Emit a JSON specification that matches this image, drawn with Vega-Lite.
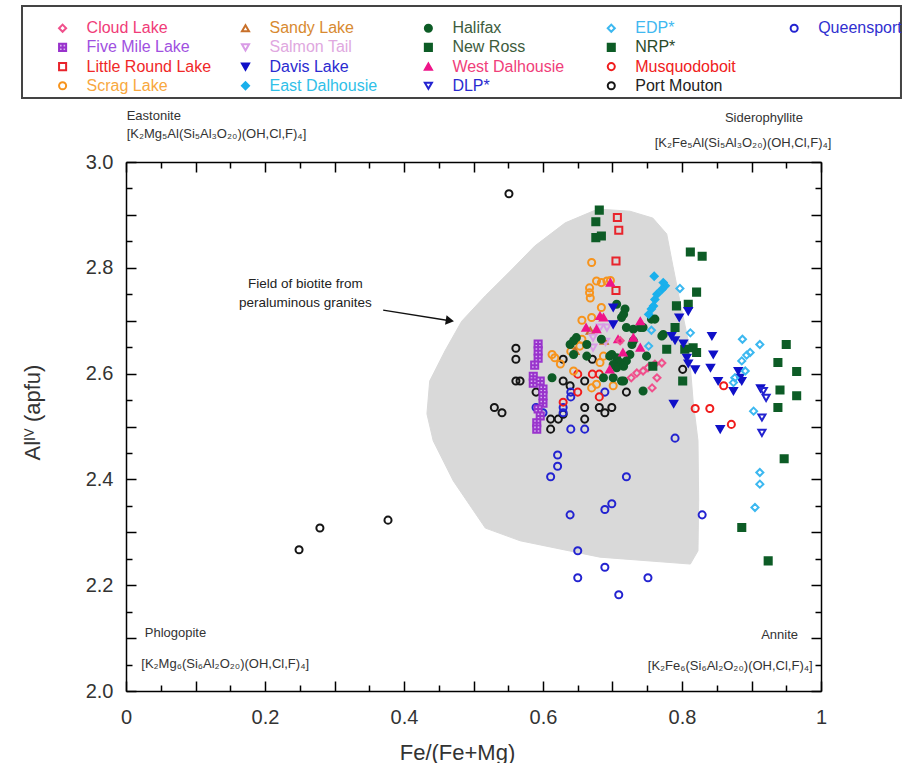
{
  "$schema": "https://vega.github.io/schema/vega-lite/v6.json",
  "padding": {"left": 21, "top": 4, "right": 0, "bottom": 0},
  "background": "white",
  "config": {"font": "Liberation Sans", "view": {"stroke": null}},
  "width": 695,
  "height": 529,
  "datasets": {
    "legend": [
      {"s": "Cloud Lake", "col": 1, "row": 1},
      {"s": "Five Mile Lake", "col": 1, "row": 2},
      {"s": "Little Round Lake", "col": 1, "row": 3},
      {"s": "Scrag Lake", "col": 1, "row": 4},
      {"s": "Sandy Lake", "col": 2, "row": 1},
      {"s": "Salmon Tail", "col": 2, "row": 2},
      {"s": "Davis Lake", "col": 2, "row": 3},
      {"s": "East Dalhousie", "col": 2, "row": 4},
      {"s": "Halifax", "col": 3, "row": 1},
      {"s": "New Ross", "col": 3, "row": 2},
      {"s": "West Dalhousie", "col": 3, "row": 3},
      {"s": "DLP*", "col": 3, "row": 4},
      {"s": "EDP*", "col": 4, "row": 1},
      {"s": "NRP*", "col": 4, "row": 2},
      {"s": "Musquodoboit", "col": 4, "row": 3},
      {"s": "Port Mouton", "col": 4, "row": 4},
      {"s": "Queensport", "col": 5, "row": 1}
    ],
    "field": [
      {"i": 1, "x": 0.679, "y": 2.911}, {"i": 2, "x": 0.725, "y": 2.907}, {"i": 3, "x": 0.758, "y": 2.894},
      {"i": 4, "x": 0.778, "y": 2.864}, {"i": 5, "x": 0.787, "y": 2.803}, {"i": 6, "x": 0.797, "y": 2.737},
      {"i": 7, "x": 0.809, "y": 2.662}, {"i": 8, "x": 0.816, "y": 2.548}, {"i": 9, "x": 0.823, "y": 2.473},
      {"i": 10, "x": 0.824, "y": 2.359}, {"i": 11, "x": 0.823, "y": 2.265}, {"i": 12, "x": 0.812, "y": 2.24},
      {"i": 13, "x": 0.682, "y": 2.253}, {"i": 14, "x": 0.567, "y": 2.284}, {"i": 15, "x": 0.517, "y": 2.308},
      {"i": 16, "x": 0.471, "y": 2.397}, {"i": 17, "x": 0.442, "y": 2.473}, {"i": 18, "x": 0.433, "y": 2.524},
      {"i": 19, "x": 0.437, "y": 2.586}, {"i": 20, "x": 0.459, "y": 2.643}, {"i": 21, "x": 0.483, "y": 2.699},
      {"i": 22, "x": 0.517, "y": 2.747}, {"i": 23, "x": 0.553, "y": 2.794}, {"i": 24, "x": 0.588, "y": 2.841},
      {"i": 25, "x": 0.632, "y": 2.885}
    ],
    "notesL": [
      {"t": "Eastonite", "x": 0.001, "y": 3.087},
      {"t": "[K₂Mg₅Al(Si₅Al₃O₂₀)(OH,Cl,F)₄]", "x": 0.001, "y": 3.053},
      {"t": "Phlogopite", "x": 0.027, "y": 2.11},
      {"t": "[K₂Mg₆(Si₆Al₂O₂₀)(OH,Cl,F)₄]", "x": 0.022, "y": 2.051}
    ],
    "notesR": [
      {"t": "Siderophyllite", "x": 0.974, "y": 3.083},
      {"t": "[K₂Fe₅Al(Si₅Al₃O₂₀)(OH,Cl,F)₄]", "x": 1.015, "y": 3.036},
      {"t": "Annite", "x": 0.967, "y": 2.106},
      {"t": "[K₂Fe₆(Si₆Al₂O₂₀)(OH,Cl,F)₄]", "x": 0.988, "y": 2.047}
    ],
    "notesC": [
      {"t": "Field of biotite from", "x": 0.258, "y": 2.769},
      {"t": "peraluminous granites", "x": 0.258, "y": 2.733}
    ],
    "arrow": [{"x": 0.37, "y": 2.72, "x2": 0.466, "y2": 2.7}],
    "pts": [
      {"s": "Port Mouton", "x": 0.551, "y": 2.94}, {"s": "Port Mouton", "x": 0.249, "y": 2.267},
      {"s": "Port Mouton", "x": 0.279, "y": 2.308}, {"s": "Port Mouton", "x": 0.377, "y": 2.323},
      {"s": "Port Mouton", "x": 0.561, "y": 2.648}, {"s": "Port Mouton", "x": 0.561, "y": 2.627},
      {"s": "Port Mouton", "x": 0.561, "y": 2.586}, {"s": "Port Mouton", "x": 0.567, "y": 2.586},
      {"s": "Port Mouton", "x": 0.59, "y": 2.565}, {"s": "Port Mouton", "x": 0.53, "y": 2.536},
      {"s": "Port Mouton", "x": 0.541, "y": 2.526}, {"s": "Port Mouton", "x": 0.629, "y": 2.627},
      {"s": "Port Mouton", "x": 0.671, "y": 2.627}, {"s": "Port Mouton", "x": 0.629, "y": 2.586},
      {"s": "Port Mouton", "x": 0.639, "y": 2.577}, {"s": "Port Mouton", "x": 0.66, "y": 2.586},
      {"s": "Port Mouton", "x": 0.611, "y": 2.514}, {"s": "Port Mouton", "x": 0.622, "y": 2.514},
      {"s": "Port Mouton", "x": 0.629, "y": 2.523}, {"s": "Port Mouton", "x": 0.611, "y": 2.495},
      {"s": "Port Mouton", "x": 0.66, "y": 2.536}, {"s": "Port Mouton", "x": 0.66, "y": 2.514},
      {"s": "Port Mouton", "x": 0.681, "y": 2.536}, {"s": "Port Mouton", "x": 0.689, "y": 2.526},
      {"s": "Port Mouton", "x": 0.699, "y": 2.536}, {"s": "Port Mouton", "x": 0.72, "y": 2.565},
      {"s": "Port Mouton", "x": 0.801, "y": 2.608},
      {"s": "Queensport", "x": 0.621, "y": 2.446}, {"s": "Queensport", "x": 0.621, "y": 2.425},
      {"s": "Queensport", "x": 0.611, "y": 2.405}, {"s": "Queensport", "x": 0.72, "y": 2.405},
      {"s": "Queensport", "x": 0.699, "y": 2.354}, {"s": "Queensport", "x": 0.689, "y": 2.343},
      {"s": "Queensport", "x": 0.639, "y": 2.333}, {"s": "Queensport", "x": 0.829, "y": 2.333},
      {"s": "Queensport", "x": 0.65, "y": 2.265}, {"s": "Queensport", "x": 0.689, "y": 2.234},
      {"s": "Queensport", "x": 0.65, "y": 2.214}, {"s": "Queensport", "x": 0.751, "y": 2.214},
      {"s": "Queensport", "x": 0.709, "y": 2.182}, {"s": "Queensport", "x": 0.79, "y": 2.478},
      {"s": "Queensport", "x": 0.64, "y": 2.565}, {"s": "Queensport", "x": 0.64, "y": 2.556},
      {"s": "Queensport", "x": 0.689, "y": 2.565}, {"s": "Queensport", "x": 0.59, "y": 2.536},
      {"s": "Queensport", "x": 0.6, "y": 2.526}, {"s": "Queensport", "x": 0.629, "y": 2.536},
      {"s": "Queensport", "x": 0.629, "y": 2.526}, {"s": "Queensport", "x": 0.64, "y": 2.495},
      {"s": "Queensport", "x": 0.66, "y": 2.495},
      {"s": "Five Mile Lake", "x": 0.593, "y": 2.656}, {"s": "Five Mile Lake", "x": 0.593, "y": 2.643},
      {"s": "Five Mile Lake", "x": 0.593, "y": 2.629}, {"s": "Five Mile Lake", "x": 0.588, "y": 2.616},
      {"s": "Five Mile Lake", "x": 0.586, "y": 2.595}, {"s": "Five Mile Lake", "x": 0.586, "y": 2.582},
      {"s": "Five Mile Lake", "x": 0.596, "y": 2.586}, {"s": "Five Mile Lake", "x": 0.6, "y": 2.571},
      {"s": "Five Mile Lake", "x": 0.6, "y": 2.558}, {"s": "Five Mile Lake", "x": 0.6, "y": 2.544},
      {"s": "Five Mile Lake", "x": 0.593, "y": 2.533}, {"s": "Five Mile Lake", "x": 0.596, "y": 2.52},
      {"s": "Five Mile Lake", "x": 0.591, "y": 2.507}, {"s": "Five Mile Lake", "x": 0.591, "y": 2.495},
      {"s": "Little Round Lake", "x": 0.707, "y": 2.895}, {"s": "Little Round Lake", "x": 0.709, "y": 2.871},
      {"s": "Little Round Lake", "x": 0.705, "y": 2.813}, {"s": "Little Round Lake", "x": 0.705, "y": 2.757},
      {"s": "Musquodoboit", "x": 0.65, "y": 2.599}, {"s": "Musquodoboit", "x": 0.671, "y": 2.599},
      {"s": "Musquodoboit", "x": 0.681, "y": 2.599}, {"s": "Musquodoboit", "x": 0.65, "y": 2.565},
      {"s": "Musquodoboit", "x": 0.629, "y": 2.546}, {"s": "Musquodoboit", "x": 0.681, "y": 2.556},
      {"s": "Musquodoboit", "x": 0.86, "y": 2.577}, {"s": "Musquodoboit", "x": 0.819, "y": 2.534},
      {"s": "Musquodoboit", "x": 0.84, "y": 2.534}, {"s": "Musquodoboit", "x": 0.871, "y": 2.504},
      {"s": "Scrag Lake", "x": 0.67, "y": 2.81}, {"s": "Scrag Lake", "x": 0.677, "y": 2.775},
      {"s": "Scrag Lake", "x": 0.684, "y": 2.772}, {"s": "Scrag Lake", "x": 0.692, "y": 2.775},
      {"s": "Scrag Lake", "x": 0.697, "y": 2.776}, {"s": "Scrag Lake", "x": 0.667, "y": 2.762},
      {"s": "Scrag Lake", "x": 0.667, "y": 2.753}, {"s": "Scrag Lake", "x": 0.668, "y": 2.743},
      {"s": "Scrag Lake", "x": 0.684, "y": 2.725}, {"s": "Scrag Lake", "x": 0.656, "y": 2.701},
      {"s": "Scrag Lake", "x": 0.67, "y": 2.706}, {"s": "Scrag Lake", "x": 0.613, "y": 2.636},
      {"s": "Scrag Lake", "x": 0.617, "y": 2.63}, {"s": "Scrag Lake", "x": 0.653, "y": 2.652},
      {"s": "Scrag Lake", "x": 0.644, "y": 2.605}, {"s": "Scrag Lake", "x": 0.677, "y": 2.58},
      {"s": "Scrag Lake", "x": 0.67, "y": 2.573}, {"s": "Scrag Lake", "x": 0.682, "y": 2.621},
      {"s": "Scrag Lake", "x": 0.687, "y": 2.633}, {"s": "Scrag Lake", "x": 0.701, "y": 2.577},
      {"s": "Scrag Lake", "x": 0.656, "y": 2.665}, {"s": "Scrag Lake", "x": 0.64, "y": 2.642},
      {"s": "Scrag Lake", "x": 0.625, "y": 2.618},
      {"s": "Sandy Lake", "x": 0.668, "y": 2.681}, {"s": "Sandy Lake", "x": 0.688, "y": 2.662},
      {"s": "Sandy Lake", "x": 0.646, "y": 2.643},
      {"s": "Salmon Tail", "x": 0.672, "y": 2.668}, {"s": "Salmon Tail", "x": 0.682, "y": 2.687},
      {"s": "Salmon Tail", "x": 0.692, "y": 2.687}, {"s": "Salmon Tail", "x": 0.701, "y": 2.693},
      {"s": "Salmon Tail", "x": 0.672, "y": 2.649}, {"s": "Salmon Tail", "x": 0.69, "y": 2.66},
      {"s": "Halifax", "x": 0.706, "y": 2.731}, {"s": "Halifax", "x": 0.718, "y": 2.722},
      {"s": "Halifax", "x": 0.713, "y": 2.706}, {"s": "Halifax", "x": 0.72, "y": 2.687},
      {"s": "Halifax", "x": 0.73, "y": 2.684}, {"s": "Halifax", "x": 0.74, "y": 2.687},
      {"s": "Halifax", "x": 0.756, "y": 2.703}, {"s": "Halifax", "x": 0.761, "y": 2.703},
      {"s": "Halifax", "x": 0.773, "y": 2.674}, {"s": "Halifax", "x": 0.648, "y": 2.668},
      {"s": "Halifax", "x": 0.639, "y": 2.655}, {"s": "Halifax", "x": 0.684, "y": 2.665},
      {"s": "Halifax", "x": 0.663, "y": 2.655}, {"s": "Halifax", "x": 0.644, "y": 2.636},
      {"s": "Halifax", "x": 0.663, "y": 2.633}, {"s": "Halifax", "x": 0.699, "y": 2.636},
      {"s": "Halifax", "x": 0.706, "y": 2.63}, {"s": "Halifax", "x": 0.711, "y": 2.621},
      {"s": "Halifax", "x": 0.701, "y": 2.617}, {"s": "Halifax", "x": 0.72, "y": 2.624},
      {"s": "Halifax", "x": 0.613, "y": 2.592}, {"s": "Halifax", "x": 0.644, "y": 2.662},
      {"s": "Halifax", "x": 0.696, "y": 2.633}, {"s": "Halifax", "x": 0.725, "y": 2.636},
      {"s": "Halifax", "x": 0.706, "y": 2.611}, {"s": "Halifax", "x": 0.713, "y": 2.586},
      {"s": "Halifax", "x": 0.701, "y": 2.592}, {"s": "Halifax", "x": 0.744, "y": 2.567},
      {"s": "Halifax", "x": 0.73, "y": 2.662}, {"s": "Halifax", "x": 0.687, "y": 2.592},
      {"s": "Halifax", "x": 0.716, "y": 2.712}, {"s": "Halifax", "x": 0.744, "y": 2.687},
      {"s": "Halifax", "x": 0.771, "y": 2.671}, {"s": "Halifax", "x": 0.728, "y": 2.655},
      {"s": "Halifax", "x": 0.749, "y": 2.633}, {"s": "Halifax", "x": 0.716, "y": 2.614},
      {"s": "Halifax", "x": 0.716, "y": 2.586},
      {"s": "West Dalhousie", "x": 0.697, "y": 2.772}, {"s": "West Dalhousie", "x": 0.682, "y": 2.709},
      {"s": "West Dalhousie", "x": 0.687, "y": 2.706}, {"s": "West Dalhousie", "x": 0.662, "y": 2.687},
      {"s": "West Dalhousie", "x": 0.677, "y": 2.684}, {"s": "West Dalhousie", "x": 0.708, "y": 2.665},
      {"s": "West Dalhousie", "x": 0.74, "y": 2.699}, {"s": "West Dalhousie", "x": 0.73, "y": 2.668},
      {"s": "West Dalhousie", "x": 0.74, "y": 2.649}, {"s": "West Dalhousie", "x": 0.715, "y": 2.64},
      {"s": "West Dalhousie", "x": 0.696, "y": 2.608},
      {"s": "Cloud Lake", "x": 0.727, "y": 2.592}, {"s": "Cloud Lake", "x": 0.735, "y": 2.601},
      {"s": "Cloud Lake", "x": 0.744, "y": 2.605}, {"s": "Cloud Lake", "x": 0.751, "y": 2.611},
      {"s": "Cloud Lake", "x": 0.761, "y": 2.618}, {"s": "Cloud Lake", "x": 0.771, "y": 2.62},
      {"s": "Cloud Lake", "x": 0.764, "y": 2.592}, {"s": "Cloud Lake", "x": 0.757, "y": 2.573},
      {"s": "Cloud Lake", "x": 0.711, "y": 2.662},
      {"s": "New Ross", "x": 0.681, "y": 2.909}, {"s": "New Ross", "x": 0.676, "y": 2.887},
      {"s": "New Ross", "x": 0.676, "y": 2.857}, {"s": "New Ross", "x": 0.684, "y": 2.86},
      {"s": "New Ross", "x": 0.812, "y": 2.83}, {"s": "New Ross", "x": 0.829, "y": 2.822},
      {"s": "New Ross", "x": 0.821, "y": 2.754}, {"s": "New Ross", "x": 0.792, "y": 2.728},
      {"s": "New Ross", "x": 0.809, "y": 2.731}, {"s": "New Ross", "x": 0.79, "y": 2.687},
      {"s": "New Ross", "x": 0.778, "y": 2.646}, {"s": "New Ross", "x": 0.804, "y": 2.646},
      {"s": "New Ross", "x": 0.816, "y": 2.649}, {"s": "New Ross", "x": 0.821, "y": 2.64},
      {"s": "New Ross", "x": 0.758, "y": 2.614}, {"s": "New Ross", "x": 0.801, "y": 2.586},
      {"s": "New Ross", "x": 0.886, "y": 2.309}, {"s": "New Ross", "x": 0.924, "y": 2.246},
      {"s": "NRP*", "x": 0.95, "y": 2.655}, {"s": "NRP*", "x": 0.938, "y": 2.621},
      {"s": "NRP*", "x": 0.965, "y": 2.604}, {"s": "NRP*", "x": 0.941, "y": 2.569},
      {"s": "NRP*", "x": 0.965, "y": 2.558}, {"s": "NRP*", "x": 0.938, "y": 2.536},
      {"s": "NRP*", "x": 0.947, "y": 2.439},
      {"s": "Davis Lake", "x": 0.796, "y": 2.706}, {"s": "Davis Lake", "x": 0.809, "y": 2.718},
      {"s": "Davis Lake", "x": 0.785, "y": 2.671}, {"s": "Davis Lake", "x": 0.79, "y": 2.663},
      {"s": "Davis Lake", "x": 0.802, "y": 2.657}, {"s": "Davis Lake", "x": 0.807, "y": 2.63},
      {"s": "Davis Lake", "x": 0.809, "y": 2.619}, {"s": "Davis Lake", "x": 0.819, "y": 2.608},
      {"s": "Davis Lake", "x": 0.843, "y": 2.671}, {"s": "Davis Lake", "x": 0.845, "y": 2.636},
      {"s": "Davis Lake", "x": 0.841, "y": 2.611}, {"s": "Davis Lake", "x": 0.788, "y": 2.543},
      {"s": "Davis Lake", "x": 0.852, "y": 2.586}, {"s": "Davis Lake", "x": 0.874, "y": 2.567},
      {"s": "Davis Lake", "x": 0.855, "y": 2.495}, {"s": "Davis Lake", "x": 0.881, "y": 2.605},
      {"s": "Davis Lake", "x": 0.883, "y": 2.592}, {"s": "Davis Lake", "x": 0.886, "y": 2.586},
      {"s": "Davis Lake", "x": 0.701, "y": 2.725}, {"s": "Davis Lake", "x": 0.701, "y": 2.693},
      {"s": "Davis Lake", "x": 0.913, "y": 2.572},
      {"s": "DLP*", "x": 0.917, "y": 2.567}, {"s": "DLP*", "x": 0.921, "y": 2.554},
      {"s": "DLP*", "x": 0.915, "y": 2.517}, {"s": "DLP*", "x": 0.915, "y": 2.488},
      {"s": "EDP*", "x": 0.797, "y": 2.761}, {"s": "EDP*", "x": 0.812, "y": 2.677},
      {"s": "EDP*", "x": 0.756, "y": 2.682}, {"s": "EDP*", "x": 0.752, "y": 2.652},
      {"s": "EDP*", "x": 0.887, "y": 2.665}, {"s": "EDP*", "x": 0.912, "y": 2.655},
      {"s": "EDP*", "x": 0.898, "y": 2.64}, {"s": "EDP*", "x": 0.893, "y": 2.635},
      {"s": "EDP*", "x": 0.886, "y": 2.624}, {"s": "EDP*", "x": 0.891, "y": 2.605},
      {"s": "EDP*", "x": 0.876, "y": 2.592}, {"s": "EDP*", "x": 0.874, "y": 2.583},
      {"s": "EDP*", "x": 0.903, "y": 2.529}, {"s": "EDP*", "x": 0.912, "y": 2.413},
      {"s": "EDP*", "x": 0.912, "y": 2.391}, {"s": "EDP*", "x": 0.905, "y": 2.347},
      {"s": "East Dalhousie", "x": 0.76, "y": 2.784}, {"s": "East Dalhousie", "x": 0.773, "y": 2.772},
      {"s": "East Dalhousie", "x": 0.776, "y": 2.766}, {"s": "East Dalhousie", "x": 0.771, "y": 2.759},
      {"s": "East Dalhousie", "x": 0.764, "y": 2.75}, {"s": "East Dalhousie", "x": 0.761, "y": 2.74},
      {"s": "East Dalhousie", "x": 0.759, "y": 2.728}, {"s": "East Dalhousie", "x": 0.756, "y": 2.722},
      {"s": "East Dalhousie", "x": 0.752, "y": 2.712}
    ]
  },
  "layer": [
    {
      "data": {"name": "field"},
      "mark": {"type": "line", "interpolate": "linear-closed", "fill": "#d9d9d9", "stroke": "#d9d9d9", "strokeWidth": 1},
      "encoding": {
        "x": {"field": "x", "type": "quantitative", "scale": {"domain": [0, 1], "nice": false, "zero": false},
          "axis": {"orient": "bottom", "values": [0,0.05,0.1,0.15,0.2,0.25,0.3,0.35,0.4,0.45,0.5,0.55,0.6,0.65,0.7,0.75,0.8,0.85,0.9,0.95,1],
            "labelExpr": "round(datum.value*100) % 20 === 0 ? format(datum.value, '~g') : ''",
            "tickSize": {"condition": {"test": "round(datum.value*100) % 10 === 0", "value": -10}, "value": -6},
            "tickColor": "black", "tickWidth": 1.5, "domainColor": "black", "domainWidth": 1.5,
            "labelFontSize": 20, "labelColor": "#333333", "labelPadding": 26, "labelFlush": false, "labelOverlap": false,
            "grid": false, "title": "Fe/(Fe+Mg)", "titleFontSize": 22, "titleFontWeight": "normal", "titleColor": "#333333",
            "titleX": 331, "titleY": 51, "titleBaseline": "top"}},
        "y": {"field": "y", "type": "quantitative", "scale": {"domain": [2, 3], "nice": false, "zero": false},
          "axis": {"orient": "left", "values": [2,2.05,2.1,2.15,2.2,2.25,2.3,2.35,2.4,2.45,2.5,2.55,2.6,2.65,2.7,2.75,2.8,2.85,2.9,2.95,3],
            "labelExpr": "round(datum.value*100) % 20 === 0 ? format(datum.value, '.1f') : ''",
            "tickSize": {"condition": {"test": "round(datum.value*100) % 10 === 0", "value": -10}, "value": -6},
            "tickColor": "black", "tickWidth": 1.5, "domainColor": "black", "domainWidth": 1.5,
            "labelFontSize": 20, "labelColor": "#333333", "labelPadding": 23, "labelOverlap": false, "labelFlush": false,
            "grid": false, "title": "Alᴵⱽ (apfu)", "titleFontSize": 22, "titleFontWeight": "normal", "titleColor": "#333333",
            "titleX": -82, "titleY": 250}},
        "order": {"field": "i", "type": "quantitative"}
      }
    },
    {
      "data": {"name": "notesL"},
      "mark": {"type": "text", "align": "left", "baseline": "middle", "fontSize": 13, "color": "#333333"},
      "encoding": {
        "x": {"field": "x", "type": "quantitative", "scale": {"domain": [0, 1], "nice": false, "zero": false}, "axis": null},
        "y": {"field": "y", "type": "quantitative", "scale": {"domain": [2, 3], "nice": false, "zero": false}, "axis": null},
        "text": {"field": "t"}
      }
    },
    {
      "data": {"name": "notesR"},
      "mark": {"type": "text", "align": "right", "baseline": "middle", "fontSize": 13, "color": "#333333"},
      "encoding": {
        "x": {"field": "x", "type": "quantitative", "scale": {"domain": [0, 1], "nice": false, "zero": false}, "axis": null},
        "y": {"field": "y", "type": "quantitative", "scale": {"domain": [2, 3], "nice": false, "zero": false}, "axis": null},
        "text": {"field": "t"}
      }
    },
    {
      "data": {"name": "notesC"},
      "mark": {"type": "text", "align": "center", "baseline": "middle", "fontSize": 13.5, "color": "#222222"},
      "encoding": {
        "x": {"field": "x", "type": "quantitative", "scale": {"domain": [0, 1], "nice": false, "zero": false}, "axis": null},
        "y": {"field": "y", "type": "quantitative", "scale": {"domain": [2, 3], "nice": false, "zero": false}, "axis": null},
        "text": {"field": "t"}
      }
    },
    {
      "data": {"name": "arrow"},
      "mark": {"type": "rule", "color": "#111111", "strokeWidth": 1.5},
      "encoding": {
        "x": {"field": "x", "type": "quantitative", "scale": {"domain": [0, 1], "nice": false, "zero": false}, "axis": null},
        "y": {"field": "y", "type": "quantitative", "scale": {"domain": [2, 3], "nice": false, "zero": false}, "axis": null},
        "x2": {"field": "x2"},
        "y2": {"field": "y2"}
      }
    },
    {
      "data": {"name": "arrow"},
      "mark": {"type": "point", "shape": "triangle-right", "angle": 9, "filled": true, "color": "#111111", "size": 90, "opacity": 1},
      "encoding": {
        "x": {"field": "x2", "type": "quantitative", "scale": {"domain": [0, 1], "nice": false, "zero": false}, "axis": null},
        "y": {"field": "y2", "type": "quantitative", "scale": {"domain": [2, 3], "nice": false, "zero": false}, "axis": null}
      }
    },
    {
      "data": {"name": "pts"},
      "mark": {"type": "point", "size": 50, "strokeWidth": 2, "opacity": 1},
      "encoding": {
        "x": {"field": "x", "type": "quantitative", "scale": {"domain": [0, 1], "nice": false, "zero": false},
          "axis": {"orient": "top", "values": [0,0.05,0.1,0.15,0.2,0.25,0.3,0.35,0.4,0.45,0.5,0.55,0.6,0.65,0.7,0.75,0.8,0.85,0.9,0.95,1],
            "labels": false, "title": null, "grid": false,
            "tickSize": {"condition": {"test": "round(datum.value*100) % 10 === 0", "value": -10}, "value": -6},
            "tickColor": "black", "tickWidth": 1.5, "domainColor": "black", "domainWidth": 1.5}},
        "y": {"field": "y", "type": "quantitative", "scale": {"domain": [2, 3], "nice": false, "zero": false},
          "axis": {"orient": "right", "values": [2,2.05,2.1,2.15,2.2,2.25,2.3,2.35,2.4,2.45,2.5,2.55,2.6,2.65,2.7,2.75,2.8,2.85,2.9,2.95,3],
            "labels": false, "title": null, "grid": false,
            "tickSize": {"condition": {"test": "round(datum.value*100) % 10 === 0", "value": -10}, "value": -6},
            "tickColor": "black", "tickWidth": 1.5, "domainColor": "black", "domainWidth": 1.5}},
        "shape": {"field": "s", "type": "nominal", "legend": null, "scale": {
          "domain": ["Cloud Lake","Five Mile Lake","Little Round Lake","Scrag Lake","Sandy Lake","Salmon Tail","Davis Lake","East Dalhousie","Halifax","New Ross","West Dalhousie","DLP*","EDP*","NRP*","Musquodoboit","Port Mouton","Queensport"],
          "range": ["diamond","M-1,-1H1V1H-1Z M0,-1V1 M-1,0H1","square","circle","triangle-up","triangle-down","triangle-down","diamond","circle","square","triangle-up","triangle-down","diamond","M-1,-1H1V1H-1Z M-0.6,-0.15V0.15H0.6V-0.15Z","circle","circle","circle"]}},
        "fill": {"field": "s", "type": "nominal", "legend": null, "scale": {
          "domain": ["Cloud Lake","Five Mile Lake","Little Round Lake","Scrag Lake","Sandy Lake","Salmon Tail","Davis Lake","East Dalhousie","Halifax","New Ross","West Dalhousie","DLP*","EDP*","NRP*","Musquodoboit","Port Mouton","Queensport"],
          "range": ["transparent","#d9b3f2","transparent","transparent","transparent","transparent","#1010c8","#1ab0ec","#0d5c26","#0d5c26","#ee1589","transparent","transparent","#0d5c26","transparent","transparent","transparent"]}},
        "stroke": {"field": "s", "type": "nominal", "legend": null, "scale": {
          "domain": ["Cloud Lake","Five Mile Lake","Little Round Lake","Scrag Lake","Sandy Lake","Salmon Tail","Davis Lake","East Dalhousie","Halifax","New Ross","West Dalhousie","DLP*","EDP*","NRP*","Musquodoboit","Port Mouton","Queensport"],
          "range": ["#f0508c","#9933cc","#e8242c","#f7941d","#c8702a","#d99be6","#1010c8","#1ab0ec","#0d5c26","#0d5c26","#ee1589","#2323d0","#3cb8f0","#0d5c26","#f01c1c","#151515","#2323d0"]}}
      }
    },
    {
      "data": {"name": "legend"},
      "layer": [
        {
          "transform": [{"filter": "datum.col === 1 && datum.row === 1"}],
          "mark": {"type": "rect", "filled": false, "color": "#444444", "strokeWidth": 2},
          "encoding": {
            "x": {"datum": 0.7781, "type": "quantitative", "scale": {"domain": [1.3467, 5.1467], "nice": false, "zero": false}, "axis": null},
            "x2": {"datum": 5.584},
            "y": {"datum": -0.156, "type": "quantitative", "scale": {"domain": [7.969, 35.521], "nice": false, "zero": false, "reverse": true}, "axis": null},
            "y2": {"datum": 4.636}
          }
        },
        {
          "mark": {"type": "point", "size": 50, "strokeWidth": 2, "opacity": 1},
          "encoding": {
            "x": {"field": "col", "type": "quantitative", "scale": {"domain": [1.3467, 5.1467], "nice": false, "zero": false}, "axis": null},
            "y": {"field": "row", "type": "quantitative", "scale": {"domain": [7.969, 35.521], "nice": false, "zero": false, "reverse": true}, "axis": null},
            "shape": {"field": "s", "type": "nominal", "legend": null, "scale": {
              "domain": ["Cloud Lake","Five Mile Lake","Little Round Lake","Scrag Lake","Sandy Lake","Salmon Tail","Davis Lake","East Dalhousie","Halifax","New Ross","West Dalhousie","DLP*","EDP*","NRP*","Musquodoboit","Port Mouton","Queensport"],
              "range": ["diamond","M-1,-1H1V1H-1Z M0,-1V1 M-1,0H1","square","circle","triangle-up","triangle-down","triangle-down","diamond","circle","square","triangle-up","triangle-down","diamond","M-1,-1H1V1H-1Z M-0.6,-0.15V0.15H0.6V-0.15Z","circle","circle","circle"]}},
            "fill": {"field": "s", "type": "nominal", "legend": null, "scale": {
              "domain": ["Cloud Lake","Five Mile Lake","Little Round Lake","Scrag Lake","Sandy Lake","Salmon Tail","Davis Lake","East Dalhousie","Halifax","New Ross","West Dalhousie","DLP*","EDP*","NRP*","Musquodoboit","Port Mouton","Queensport"],
              "range": ["transparent","#d9b3f2","transparent","transparent","transparent","transparent","#1010c8","#1ab0ec","#0d5c26","#0d5c26","#ee1589","transparent","transparent","#0d5c26","transparent","transparent","transparent"]}},
            "stroke": {"field": "s", "type": "nominal", "legend": null, "scale": {
              "domain": ["Cloud Lake","Five Mile Lake","Little Round Lake","Scrag Lake","Sandy Lake","Salmon Tail","Davis Lake","East Dalhousie","Halifax","New Ross","West Dalhousie","DLP*","EDP*","NRP*","Musquodoboit","Port Mouton","Queensport"],
              "range": ["#f0508c","#9933cc","#e8242c","#f7941d","#c8702a","#d99be6","#1010c8","#1ab0ec","#0d5c26","#0d5c26","#ee1589","#2323d0","#3cb8f0","#0d5c26","#f01c1c","#151515","#2323d0"]}}
          }
        },
        {
          "mark": {"type": "text", "align": "left", "baseline": "middle", "dx": 24, "fontSize": 16},
          "encoding": {
            "x": {"field": "col", "type": "quantitative", "scale": {"domain": [1.3467, 5.1467], "nice": false, "zero": false}, "axis": null},
            "y": {"field": "row", "type": "quantitative", "scale": {"domain": [7.969, 35.521], "nice": false, "zero": false, "reverse": true}, "axis": null},
            "text": {"field": "s"},
            "color": {"field": "s", "type": "nominal", "legend": null, "scale": {
              "domain": ["Cloud Lake","Five Mile Lake","Little Round Lake","Scrag Lake","Sandy Lake","Salmon Tail","Davis Lake","East Dalhousie","Halifax","New Ross","West Dalhousie","DLP*","EDP*","NRP*","Musquodoboit","Port Mouton","Queensport"],
              "range": ["#f03c78","#a050e0","#f02828","#f8a840","#d88a30","#e0a8e0","#2a2ad0","#30c0e8","#3d5c3d","#3d5c3d","#f0407a","#2a2ad0","#40b8f0","#2a4a2a","#f02020","#222222","#3030d0"]}}
          }
        }
      ]
    }
  ],
  "resolve": {"scale": {"x": "independent", "y": "independent"}, "axis": {"x": "independent", "y": "independent"}}
}
